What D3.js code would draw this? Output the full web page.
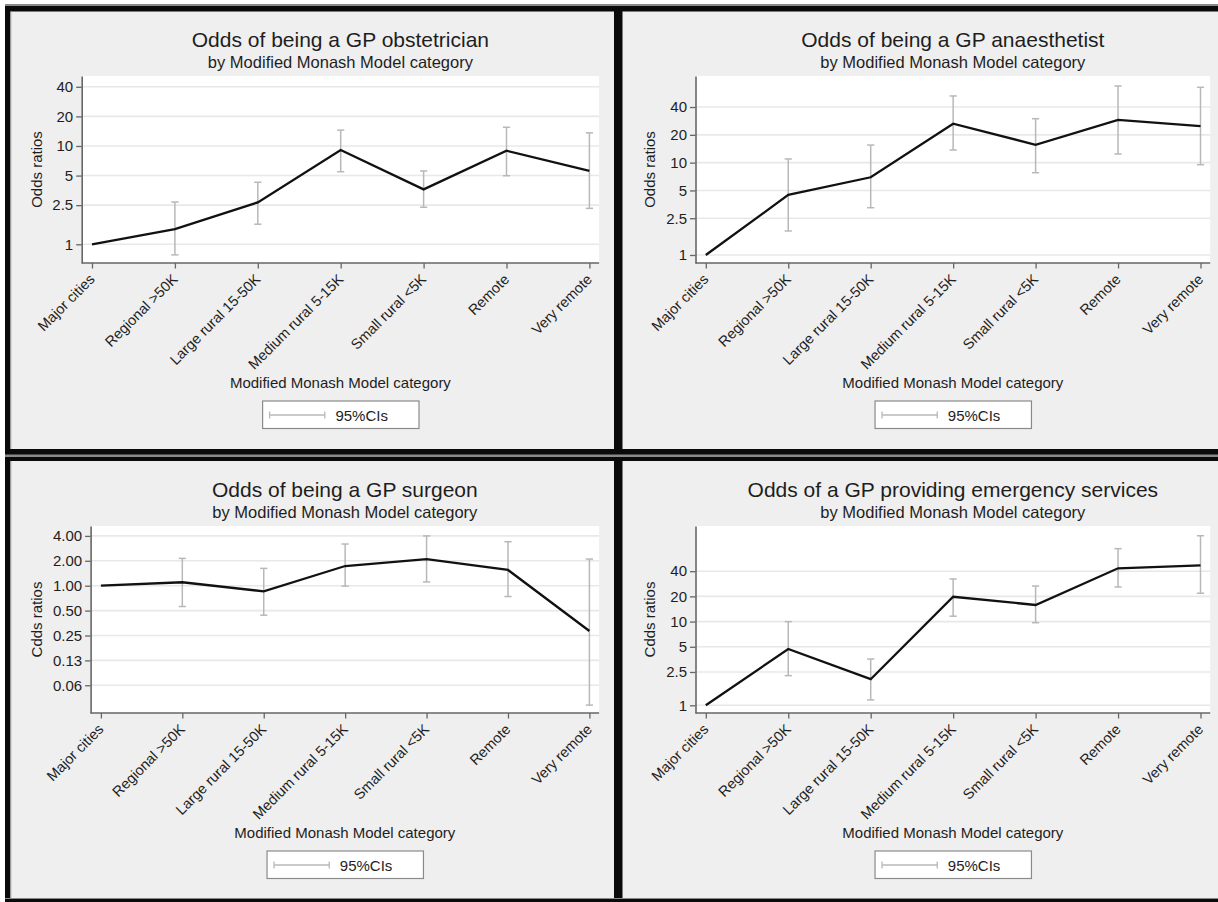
<!DOCTYPE html>
<html><head><meta charset="utf-8">
<script src="https://cdn.jsdelivr.net/npm/d3@7"></script>
<style>
body{margin:0;background:#fff;}
svg{display:block;}
text{font-family:"Liberation Sans",Arial,sans-serif;fill:#1e1e1e;}
</style>
</head><body>
<svg id="chart" width="1218" height="902"></svg>
<script>
// ---------- data ----------
const categories = ["Major cities","Regional >50K","Large rural 15-50K","Medium rural 5-15K","Small rural <5K","Remote","Very remote"];

const obstetricianOR = [1, 1.43, 2.67, 9.1, 3.62, 8.95, 5.57];
const obstetricianLo = [null, 0.78, 1.6, 5.47, 2.38, 4.98, 2.32];
const obstetricianHi = [null, 2.69, 4.27, 14.5, 5.57, 15.5, 13.6];

const anaesthetistOR = [1, 4.47, 6.94, 26.4, 15.6, 29, 24.8];
const anaesthetistLo = [null, 1.82, 3.25, 13.7, 7.78, 12.4, 9.5];
const anaesthetistHi = [null, 10.96, 15.5, 52.7, 29.9, 67.6, 65.4];

const surgeonOR = [1, 1.10, 0.855, 1.73, 2.10, 1.55, 0.283];
const surgeonLo = [null, 0.56, 0.44, 0.99, 1.11, 0.74, 0.036];
const surgeonHi = [null, 2.14, 1.62, 3.19, 4.0, 3.4, 2.10];

const emergencyOR = [1, 4.7, 2.05, 19.8, 15.8, 43.3, 47];
const emergencyLo = [null, 2.26, 1.16, 11.6, 9.7, 25.9, 21.8];
const emergencyHi = [null, 9.98, 3.57, 32.3, 26.6, 74.3, 106];

const tickValuesOR = [1, 2.5, 5, 10, 20, 40];
const tickValuesSurgeon = [0.0625, 0.125, 0.25, 0.5, 1, 2, 4];

const titles = ["Odds of being a GP obstetrician","Odds of being a GP anaesthetist","Odds of being a GP surgeon","Odds of a GP providing emergency services"];
const subtitle = "by Modified Monash Model category";
const xTitle = "Modified Monash Model category";
const yTitles = ["Odds ratios","Odds ratios","Cdds ratios","Cdds ratios"];
const legendLabel = "95%CIs";

// ---------- layout ----------
const panels = [
  {ox:0,   oy:0,   left:81.7, right:599.1, yDomain:[0.645,51.5], ticks:tickValuesOR, fmt:d3.format("~g"), yTitleX:37,
   or:obstetricianOR, lo:obstetricianLo, hi:obstetricianHi},
  {ox:608, oy:0,   left:87.5, right:602.2, yDomain:[0.819,86.7], ticks:tickValuesOR, fmt:d3.format("~g"), yTitleX:42,
   or:anaesthetistOR, lo:anaesthetistLo, hi:anaesthetistHi},
  {ox:0,   oy:450, left:90.6, right:599.1, yDomain:[0.0289,5.27], ticks:tickValuesSurgeon, fmt:d3.format(".2f"), yTitleX:37,
   or:surgeonOR, lo:surgeonLo, hi:surgeonHi},
  {ox:608, oy:450, left:87.5, right:602.2, yDomain:[0.809,138.6], ticks:tickValuesOR, fmt:d3.format("~g"), yTitleX:42,
   or:emergencyOR, lo:emergencyLo, hi:emergencyHi}
];
const plotTop = 76, plotBottom = 263;

const svg = d3.select("#chart");

// ---------- frame ----------
svg.append("rect").attr("x",5).attr("y",6).attr("width",1213).attr("height",896).attr("fill","#efefef");
const frame = svg.append("g");
frame.append("rect").attr("x",5).attr("y",4).attr("width",1213).attr("height",2).attr("fill","#8a8a8a");
frame.append("rect").attr("x",5).attr("y",6).attr("width",1213).attr("height",5.5).attr("fill","#0a0a0a");
frame.append("rect").attr("x",5).attr("y",6).attr("width",5.5).attr("height",896).attr("fill","#0a0a0a");
frame.append("rect").attr("x",10.5).attr("y",11.5).attr("width",1).attr("height",890).attr("fill","#bdbdbd");
frame.append("rect").attr("x",614).attr("y",6).attr("width",8.5).attr("height",896).attr("fill","#0a0a0a");
frame.append("rect").attr("x",5).attr("y",449).attr("width",1213).attr("height",12).attr("fill","#0a0a0a");
frame.append("rect").attr("x",5).attr("y",454.5).attr("width",1213).attr("height",2.5).attr("fill","#8a8a8a");
frame.append("rect").attr("x",5).attr("y",898).attr("width",1213).attr("height",1).attr("fill","#8a8a8a");
frame.append("rect").attr("x",5).attr("y",899).attr("width",1213).attr("height",3).attr("fill","#0a0a0a");

// ---------- panels ----------
panels.forEach((p, k) => {
  const g = svg.append("g").attr("transform", `translate(${p.ox},${p.oy})`);
  const cx = (p.left + p.right) / 2;

  const x = d3.scalePoint().domain(categories).range([p.left + 10.3, p.right - 9.7]);
  const y = d3.scaleLog().domain(p.yDomain).range([plotBottom, plotTop]);

  // plot region
  g.append("rect").attr("x", p.left).attr("y", plotTop).attr("width", p.right - p.left)
    .attr("height", plotBottom - plotTop).attr("fill", "#ffffff");

  // gridlines
  g.append("g").selectAll("line").data(p.ticks).join("line")
    .attr("x1", p.left).attr("x2", p.right)
    .attr("y1", d => y(d)).attr("y2", d => y(d))
    .attr("stroke", "#e8e8e8").attr("stroke-width", 1.6);

  // y axis
  const ya = g.append("g").attr("transform", `translate(${p.left},0)`)
    .call(d3.axisLeft(y).tickValues(p.ticks).tickFormat(p.fmt).tickSize(5.5).tickPadding(3).tickSizeOuter(0));
  ya.select(".domain").attr("stroke", "#666").attr("stroke-width", 1.6);
  ya.selectAll(".tick line").attr("stroke", "#666").attr("stroke-width", 1.3);
  ya.selectAll(".tick text").style("font-size", "15px").attr("fill", "#1e1e1e");

  // x axis
  const xa = g.append("g").attr("transform", `translate(0,${plotBottom})`)
    .call(d3.axisBottom(x).tickSize(5.5).tickSizeOuter(0));
  xa.select(".domain").remove();
  xa.selectAll(".tick line").attr("stroke", "#666").attr("stroke-width", 1.3);
  xa.selectAll(".tick text")
    .style("font-size", "14.5px").attr("fill", "#1e1e1e")
    .attr("text-anchor", "end").attr("y", 0).attr("dy", "0.35em")
    .attr("transform", "translate(-0.5,13.6) rotate(-45)");
  g.append("line").attr("x1", p.left).attr("x2", p.right).attr("y1", plotBottom).attr("y2", plotBottom)
    .attr("stroke", "#666").attr("stroke-width", 1.6);

  // confidence intervals
  const ciIdx = categories.map((c, i) => i).filter(i => p.lo[i] != null);
  const ci = g.append("g").attr("stroke", "#b8b8b8").attr("stroke-width", 1.5);
  ci.selectAll("line.v").data(ciIdx).join("line").attr("class", "v")
    .attr("x1", i => x(categories[i])).attr("x2", i => x(categories[i]))
    .attr("y1", i => y(p.lo[i])).attr("y2", i => y(p.hi[i]));
  ci.selectAll("line.l").data(ciIdx).join("line").attr("class", "l")
    .attr("x1", i => x(categories[i]) - 3.6).attr("x2", i => x(categories[i]) + 3.6)
    .attr("y1", i => y(p.lo[i])).attr("y2", i => y(p.lo[i]));
  ci.selectAll("line.h").data(ciIdx).join("line").attr("class", "h")
    .attr("x1", i => x(categories[i]) - 3.6).attr("x2", i => x(categories[i]) + 3.6)
    .attr("y1", i => y(p.hi[i])).attr("y2", i => y(p.hi[i]));

  // main line
  const line = d3.line().x((d, i) => x(categories[i])).y(d => y(d));
  g.append("path").datum(p.or).attr("d", line)
    .attr("fill", "none").attr("stroke", "#111").attr("stroke-width", 2.3).attr("stroke-linejoin", "miter");

  // titles
  g.append("text").attr("x", cx).attr("y", 46.7).attr("text-anchor", "middle")
    .style("font-size", "21px").text(titles[k]);
  g.append("text").attr("x", cx).attr("y", 68.3).attr("text-anchor", "middle")
    .style("font-size", "16.5px").text(subtitle);

  // axis titles
  g.append("text").attr("transform", `translate(${p.yTitleX},${(plotTop + plotBottom) / 2}) rotate(-90)`)
    .attr("text-anchor", "middle").attr("dy", "0.35em").style("font-size", "15px").text(yTitles[k]);
  g.append("text").attr("x", cx).attr("y", 388).attr("text-anchor", "middle")
    .style("font-size", "15px").text(xTitle);

  // legend
  const lg = g.append("g").attr("transform", `translate(${cx},0)`);
  lg.append("rect").attr("x", -77.8).attr("y", 401).attr("width", 156.4).attr("height", 27.5)
    .attr("fill", "#fff").attr("stroke", "#8a8a8a").attr("stroke-width", 1.2);
  lg.append("line").attr("x1", -70.8).attr("x2", -15.6).attr("y1", 415).attr("y2", 415)
    .attr("stroke", "#b8b8b8").attr("stroke-width", 1.5);
  [-70.8, -15.6].forEach(xx => lg.append("line").attr("x1", xx).attr("x2", xx).attr("y1", 411.5).attr("y2", 418.5)
    .attr("stroke", "#b8b8b8").attr("stroke-width", 1.3));
  lg.append("text").attr("x", -5).attr("y", 420.7).style("font-size", "15px").text(legendLabel);
});
</script>
</body></html>
